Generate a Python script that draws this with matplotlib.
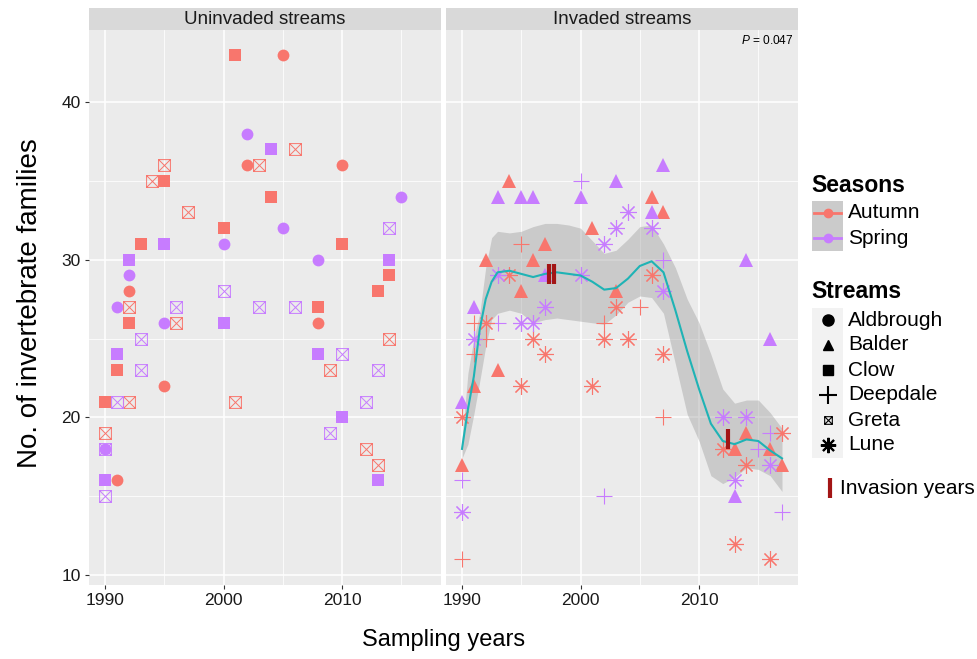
import matplotlib
matplotlib.use('Agg')
import matplotlib.pyplot as plt
from matplotlib.path import Path
from matplotlib.patches import Rectangle

plt.rcParams['font.family'] = ['Liberation Sans', 'DejaVu Sans']
plt.rcParams['mathtext.fontset'] = 'custom'
plt.rcParams['mathtext.it'] = 'Liberation Sans:italic'
plt.rcParams['mathtext.rm'] = 'Liberation Sans'

# ---- uninvaded streams ----
aldbrough_year = [2002, 2005, 2010, 1992, 1995, 2008, 1991,
                  2002, 2015, 2005, 2000, 1992, 1991, 1995, 2008, 1990]
aldbrough_count = [36, 43, 36, 28, 22, 26, 16,
                   38, 34, 32, 31, 29, 27, 26, 30, 18]
aldbrough_season = list('AAAAAAASSSSSSSSS')

clow_year = [2001, 1995, 2000, 2004, 1993, 1992, 1991, 1990, 2010, 2014, 2013, 2008,
             2004, 1995, 1992, 2000, 1991, 2014, 2008, 2010, 2013, 1990]
clow_count = [43, 35, 32, 34, 31, 26, 23, 21, 31, 29, 28, 27,
              37, 31, 30, 26, 24, 30, 24, 20, 16, 16]
clow_season = list('AAAAAAAAAAAASSSSSSSSSS')

greta_year = [1995, 2003, 1994, 1997, 2006, 1992, 1996, 1992, 2001, 2014, 2009, 1990, 2012, 2013,
              2014, 2000, 1996, 2003, 1993, 1993, 1991, 2006, 2010, 2013, 2012, 2009, 1990, 1990]
greta_count = [36, 36, 35, 33, 37, 27, 26, 21, 21, 25, 23, 19, 18, 17,
               32, 28, 27, 27, 25, 23, 21, 27, 24, 23, 21, 19, 18, 15]
greta_season = list('AAAAAAAAAAAAAASSSSSSSSSSSSSS')

# ---- invaded streams ----
balder_year = [1994, 2001, 1997, 1992, 1996, 1995, 1993, 1991, 1990, 2006, 2007, 2003, 2014, 2013, 2016, 2017,
               1993, 1995, 1996, 2000, 2003, 1997, 1991, 1990, 2007, 2006, 2014, 2016, 2013]
balder_count = [35, 32, 31, 30, 30, 28, 23, 22, 17, 34, 33, 28, 19, 18, 18, 17,
                34, 34, 34, 34, 35, 29, 27, 21, 36, 33, 30, 25, 15]
balder_season = list('AAAAAAAAAAAAAAAASSSSSSSSSSSSS')

deepdale_year = [1995, 1991, 2002, 1992, 1991, 1990, 2005, 2007,
                 2000, 1993, 1990, 2002, 2007, 2016, 2015, 2017]
deepdale_count = [31, 26, 26, 25, 24, 11, 27, 20,
                  35, 26, 16, 15, 30, 19, 18, 14]
deepdale_season = list('AAAAAAAASSSSSSSS')

lune_year = [1994, 1992, 1996, 2002, 1997, 1995, 2001, 1990, 2006, 2003, 2004, 2007, 2012, 2014, 2013, 2016, 2017,
             2002, 1993, 2000, 1997, 1995, 1996, 1991, 1990, 2004, 2003, 2006, 2007, 2012, 2014, 2016, 2013]
lune_count = [29, 26, 25, 25, 24, 22, 22, 20, 29, 27, 25, 24, 18, 17, 12, 11, 19,
              31, 29, 29, 27, 26, 26, 25, 14, 33, 32, 32, 28, 20, 20, 17, 16]
lune_season = list('AAAAAAAAAAAAAAAAASSSSSSSSSSSSSSSS')

# loess fit
fit_year = [1990, 1990.5, 1991, 1991.5, 1992, 1992.5, 1993, 1994, 1995, 1996, 1997, 1998,
            1999, 2000, 2001, 2002, 2003, 2004, 2005, 2006, 2007, 2008, 2009, 2010,
            2011, 2012, 2013, 2014, 2015, 2016, 2017]
fit_mid = [18.0, 20.5, 22.6, 25.6, 27.5, 28.6, 29.2, 29.3, 29.1, 28.9, 29.1, 29.2,
           29.1, 29.0, 28.6, 28.1, 28.2, 28.8, 29.6, 29.9, 29.2, 26.8, 24.2, 21.8,
           19.6, 18.5, 18.3, 18.6, 18.5, 17.9, 17.4]
fit_hi = [18.6, 22.8, 25.0, 26.6, 29.5, 31.4, 31.8, 31.7, 31.8, 32.1, 32.3, 32.3,
          32.2, 32.0, 31.2, 30.4, 30.6, 31.3, 32.1, 32.2, 31.0, 29.5, 27.5, 26.0,
          24.0, 21.8, 20.9, 21.1, 21.1, 20.3, 19.3]
fit_lo = [17.4, 18.3, 20.2, 22.3, 24.5, 26.2, 26.6, 26.8, 26.6, 26.0, 26.2, 26.3,
          26.2, 26.1, 26.0, 25.9, 26.5, 27.3, 27.7, 27.6, 26.6, 23.4, 20.2, 18.5,
          16.3, 15.8, 16.2, 16.8, 16.7, 16.3, 15.3]

invasion_year = [1997.3, 1997.75, 2012.45]
invasion_level = [29.1, 29.1, 18.6]

season_names = ['Autumn', 'Spring']
stream_names = ['Aldbrough', 'Balder', 'Clow', 'Deepdale', 'Greta', 'Lune']

colors = {'A': '#F8766D', 'S': '#C77CFF'}
greta_path = Path([(-1, -1), (1, -1), (1, 1), (-1, 1), (-1, -1), (-1, -1), (1, 1), (-1, 1), (1, -1)],
                  [Path.MOVETO, Path.LINETO, Path.LINETO, Path.LINETO, Path.CLOSEPOLY,
                   Path.MOVETO, Path.LINETO, Path.MOVETO, Path.LINETO])
shapes = {
    'Aldbrough': dict(marker='o', ms=8.5),
    'Balder': dict(marker='^', ms=9.5),
    'Clow': dict(marker='s', ms=8),
    'Deepdale': dict(marker='+', ms=12, mew=0.8),
    'Greta': dict(marker=greta_path, ms=8.5, mew=0.7, mfc='none'),
    'Lune': dict(marker=(8, 2, 0), ms=12, mew=0.8),
}

W, H = 977, 659


def px(x0, y0, x1, y1):
    return [x0 / W, 1 - y1 / H, (x1 - x0) / W, (y1 - y0) / H]


def draw_stream(ax, name, years, counts, seasons):
    for s in ['A', 'S']:
        xs = [x for x, ss in zip(years, seasons) if ss == s]
        ys = [y for y, ss in zip(counts, seasons) if ss == s]
        style = dict(shapes[name])
        if style.get('mfc') == 'none':
            ax.plot(xs, ys, ls='none', mec=colors[s], **style)
        else:
            ax.plot(xs, ys, ls='none', color=colors[s], mew=style.pop('mew', 0), **style)


fig = plt.figure(figsize=(W / 100, H / 100), dpi=100)

ax_l = fig.add_axes(px(89, 29.5, 441, 584.5))
ax_r = fig.add_axes(px(446, 29.5, 798, 584.5))
for ax, title, x0, x1 in [(ax_l, 'Uninvaded streams', 89, 441), (ax_r, 'Invaded streams', 446, 798)]:
    ax.set_facecolor('#EBEBEB')
    ax.set_xlim(1988.65, 2018.35)
    ax.set_ylim(9.4, 44.6)
    ax.set_xticks([1990, 2000, 2010])
    ax.set_xticks([1995, 2005, 2015], minor=True)
    ax.set_yticks([10, 20, 30, 40])
    ax.set_yticks([15, 25, 35], minor=True)
    ax.grid(which='major', color='white', lw=1.1)
    ax.grid(which='minor', color='white', lw=0.55)
    ax.set_axisbelow(True)
    for sp in ax.spines.values():
        sp.set_visible(False)
    ax.tick_params(which='major', length=3, width=0.8, color='#333333', labelsize=12.5,
                   labelcolor='#1a1a1a', pad=3)
    ax.tick_params(which='minor', length=0)
    st = fig.add_axes(px(x0, 8, x1, 29.5))
    st.set_facecolor('#D9D9D9')
    st.set_xticks([])
    st.set_yticks([])
    for sp in st.spines.values():
        sp.set_visible(False)
    st.text(0.5, 0.45, title, ha='center', va='center', fontsize=13.5, color='#1a1a1a',
            transform=st.transAxes)

ax_r.tick_params(axis='y', which='both', length=0, labelleft=False)

draw_stream(ax_l, 'Aldbrough', aldbrough_year, aldbrough_count, aldbrough_season)
draw_stream(ax_l, 'Clow', clow_year, clow_count, clow_season)
draw_stream(ax_l, 'Greta', greta_year, greta_count, greta_season)

draw_stream(ax_r, 'Balder', balder_year, balder_count, balder_season)
draw_stream(ax_r, 'Deepdale', deepdale_year, deepdale_count, deepdale_season)
draw_stream(ax_r, 'Lune', lune_year, lune_count, lune_season)

ax_r.fill_between(fit_year, fit_lo, fit_hi, color='#999999', alpha=0.4, lw=0)
ax_r.plot(fit_year, fit_mid, color='#1FB3B5', lw=1.5)
ax_r.plot(invasion_year, invasion_level, ls='none', marker='|', ms=14.5, mew=3, color='#A31515')
ax_r.text((794 - 446) / 352, 1 - (40 - 29.5) / 555, '$P$ = 0.047', ha='right', va='center',
          fontsize=8.6, transform=ax_r.transAxes)

fig.text(30 / W, 1 - 303 / H, 'No. of invertebrate families', rotation=90, ha='center',
         va='center', fontsize=20)
fig.text(443.5 / W, 1 - 640 / H, 'Sampling years', ha='center', va='center', fontsize=17)

# ---- legend in pixel coordinates ----
lg = fig.add_axes([0, 0, 1, 1], facecolor='none')
lg.set_xlim(0, W)
lg.set_ylim(H, 0)
lg.axis('off')

lg.text(811, 185, 'Seasons', fontsize=16.5, fontweight='bold', va='center')
for i, (name, key) in enumerate(zip(season_names, ['A', 'S'])):
    yc = 213 + 25 * i
    lg.add_patch(Rectangle((812, yc - 12.5), 31, 25, color='#CBCBCB', lw=0))
    lg.plot([814, 841], [yc, yc], color=colors[key], lw=2)
    lg.plot([827.5], [yc], 'o', color=colors[key], ms=6)
    lg.text(848, yc, name, fontsize=15, va='center')

lg.text(811, 292, 'Streams', fontsize=16.5, fontweight='bold', va='center')
legend_shapes = {
    'Aldbrough': dict(marker='o', ms=8),
    'Balder': dict(marker='^', ms=7.5),
    'Clow': dict(marker='s', ms=7),
    'Deepdale': dict(marker='+', ms=13, mew=1.5),
    'Greta': dict(marker=greta_path, ms=5.5, mew=0.8, mfc='none', mec='black'),
    'Lune': dict(marker=(8, 2, 0), ms=11, mew=1.5),
}
for i, name in enumerate(stream_names):
    yc = 320 + 25 * i
    lg.add_patch(Rectangle((812, yc - 12.5), 31, 25, color='#F2F2F2', lw=0))
    lg.plot([827.5], [yc], ls='none', color='black', **legend_shapes[name])
    lg.text(848, yc, name, fontsize=15, va='center')

lg.plot([830], [488], ls='none', marker='|', ms=14, mew=3, color='#A31515')
lg.text(840, 488, 'Invasion years', fontsize=15, va='center')

fig.savefig('out.png', dpi=100, facecolor='white')
